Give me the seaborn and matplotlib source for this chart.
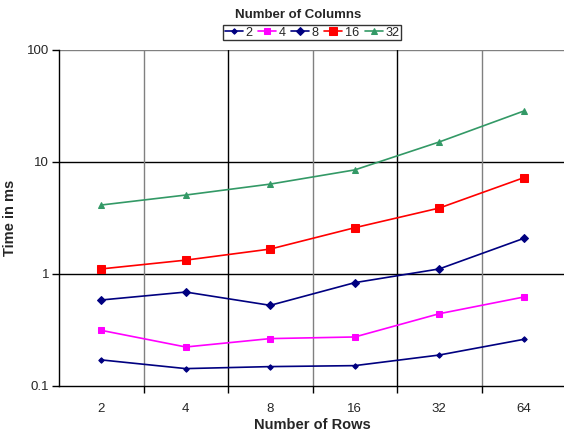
import matplotlib
matplotlib.use("Agg")
import matplotlib.pyplot as plt
import seaborn as sns
import pandas as pd
import numpy as np

rows = ["2", "4", "8", "16", "32", "64"]
columns = ["2", "4", "8", "16", "32"]
t_2 = [0.171, 0.143, 0.149, 0.152, 0.189, 0.261]
t_4 = [0.314, 0.223, 0.265, 0.274, 0.442, 0.623]
t_8 = [0.586, 0.69, 0.525, 0.837, 1.11, 2.08]
t_16 = [1.11, 1.33, 1.67, 2.59, 3.88, 7.24]
t_32 = [4.13, 5.07, 6.35, 8.5, 15.1, 28.5]
series = [t_2, t_4, t_8, t_16, t_32]

colors = ["#000080", "#FF00FF", "#000080", "#FF0000", "#339966"]
markers = ["D", "s", "D", "s", "^"]
msizes = [2.8, 4, 4, 6, 4]

recs = []
for c, vals in zip(columns, series):
    for i, (r, v) in enumerate(zip(rows, vals)):
        recs.append({"pos": i, "Rows": r, "Columns": c, "Time": v})
df = pd.DataFrame(recs)

sns.set_theme(style="white")
plt.rcParams["font.family"] = ["Liberation Sans", "DejaVu Sans"]

fig = plt.figure(figsize=(5.64, 4.33), dpi=100)
ax = fig.add_axes([59 / 564, 47 / 433, 507 / 564, 336 / 433])

for c, col, mk, ms in zip(columns, colors, markers, msizes):
    sub = df[df["Columns"] == c]
    sns.lineplot(data=sub, x="pos", y="Time", ax=ax, color=col, marker=mk,
                 markersize=ms, markeredgecolor=col, linewidth=1.2, label=c,
                 sort=False)

ax.set_yscale("log")
ax.set_ylim(0.1, 100)
ax.set_xlim(-0.5, len(rows) - 0.5)

for yv, gc in [(1, "black"), (10, "black"), (100, "#808080")]:
    ax.axhline(yv, color=gc, linewidth=1.0, zorder=0)
vcols = ["#808080", "black", "#808080", "black", "#808080"]
for i, gc in enumerate(vcols):
    ax.axvline(i + 0.5, color=gc, linewidth=1.0, zorder=0)

ax.set_xticks(range(len(rows)))
ax.set_xticklabels(rows)
ax.set_xticks([i + 0.5 for i in range(len(rows) - 1)], minor=True)
ax.tick_params(axis="x", which="major", length=0, labelsize=9.5, pad=12)
ax.tick_params(axis="x", which="minor", length=5, width=1, color="black",
               direction="out", bottom=True)
ax.set_yticks([0.1, 1, 10, 100])
ax.set_yticklabels(["0.1", "1", "10", "100"])
ax.yaxis.set_minor_locator(matplotlib.ticker.NullLocator())
ax.tick_params(axis="y", which="major", length=5, width=1, color="black",
               direction="out", left=True, labelsize=9.5, pad=2)

for s in ["top", "right"]:
    ax.spines[s].set_visible(False)
for s in ["left", "bottom"]:
    ax.spines[s].set_color("black")
    ax.spines[s].set_linewidth(1.0)

ax.set_xlabel("Number of Rows", fontsize=10.5, fontweight="bold")
ax.xaxis.set_label_coords(0.5, -(425 - 386) / 336)
ax.xaxis.label.set_va("center")
ax.set_ylabel("Time in ms", fontsize=10.5, fontweight="bold")
ax.yaxis.set_label_coords((17 - 59) / 507, 0.5)

leg = ax.legend(ncol=5, loc="center",
                bbox_to_anchor=(312 / 564, (433 - 32.5) / 433),
                bbox_transform=fig.transFigure, fontsize=9.2,
                frameon=True, fancybox=False, handlelength=1.4,
                handletextpad=0.2, columnspacing=0.45, borderpad=0.15,
                borderaxespad=0)
leg.get_frame().set_edgecolor("black")
leg.get_frame().set_linewidth(1.0)
leg.get_frame().set_facecolor("white")
fig.text(298 / 564, (433 - 15) / 433, "Number of Columns", ha="center",
         va="center", fontsize=9.5, fontweight="bold")

fig.savefig("out.png", dpi=100)
